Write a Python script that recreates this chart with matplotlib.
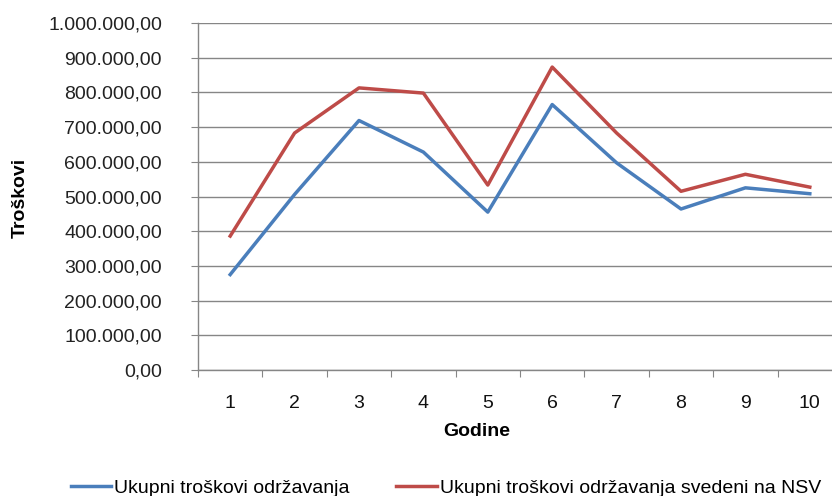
import matplotlib
matplotlib.use("Agg")
import matplotlib.pyplot as plt
import numpy as np

plt.rcParams['font.family'] = ['Liberation Sans', 'DejaVu Sans']

years = [1, 2, 3, 4, 5, 6, 7, 8, 9, 10]
ukupni = [275000, 506000, 719000, 628000, 455000, 765000, 597000, 464000, 525000, 508000]
ukupni_nsv = [386000, 683000, 813000, 798000, 533000, 873000, 683000, 515000, 564000, 527000]
y_ticks = [0, 100000, 200000, 300000, 400000, 500000, 600000, 700000, 800000, 900000, 1000000]
series_names = ["Ukupni troškovi održavanja", "Ukupni troškovi održavanja svedeni na NSV"]

def fmt(v):
    s = f"{v:,.2f}"
    return s.replace(",", "X").replace(".", ",").replace("X", ".")

W, H = 832, 496
fig = plt.figure(figsize=(W / 100, H / 100), dpi=100)
left, right, top, bottom = 198, 842, 23, 370
ax = fig.add_axes([left / W, (H - bottom) / H, (right - left) / W, (bottom - top) / H])

fs = 14
grid_c = '#868686'
x = np.arange(len(years))
l1, = ax.plot(x, ukupni, color='#4A7EBB', lw=2.5, solid_joinstyle='round')
l2, = ax.plot(x, ukupni_nsv, color='#BE4B48', lw=2.5, solid_joinstyle='round')

ax.set_xlim(-0.5, len(years) - 0.5)
ax.set_ylim(0, 1000000)
ax.set_yticks(y_ticks)
ax.set_yticklabels([fmt(v) for v in y_ticks], fontsize=fs, color='#222222')
ax.yaxis.grid(True, color=grid_c, lw=1)
ax.set_axisbelow(True)
ax.tick_params(axis='y', length=5, color=grid_c, pad=21)

ax.set_xticks(np.arange(len(years) + 1) - 0.5)
ax.set_xticklabels([])
ax.tick_params(axis='x', which='major', length=5, color=grid_c)
ax.set_xticks(x, minor=True)
ax.set_xticklabels([str(y) for y in years], minor=True, fontsize=fs, color='#111111')
ax.tick_params(axis='x', which='minor', length=0, pad=18)

for s in ['top', 'right']:
    ax.spines[s].set_visible(False)
for s in ['left', 'bottom']:
    ax.spines[s].set_color(grid_c)
    ax.spines[s].set_linewidth(1)

fig.text(20 / W, 1 - 198 / H, "Troškovi", rotation=90, ha='center', va='center',
         fontsize=fs, fontweight='bold')
fig.text(477 / W, 1 - 432 / H, "Godine", ha='center', va='center',
         fontsize=fs, fontweight='bold')

fig.legend([l1, l2], series_names, loc='center', bbox_to_anchor=(446 / W, 1 - 488 / H),
           ncol=2, frameon=False, fontsize=fs, handlelength=2.1, handletextpad=0.15,
           columnspacing=2.4)

fig.savefig("out.png", dpi=100)
